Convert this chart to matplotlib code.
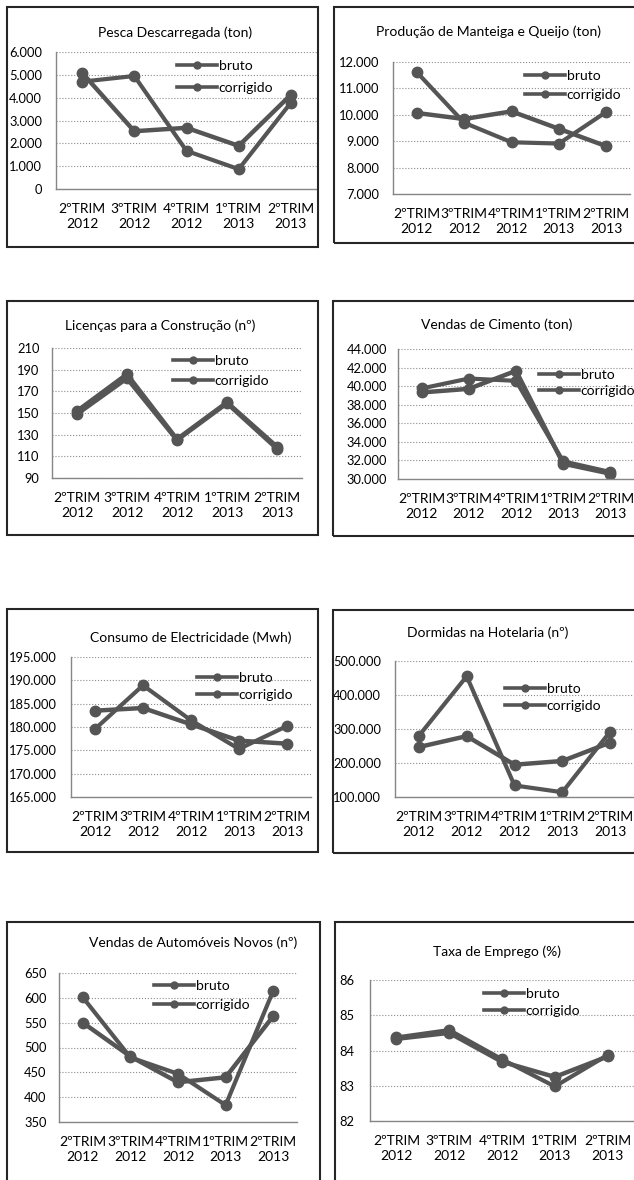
import matplotlib
matplotlib.use('Agg')
import matplotlib.pyplot as plt
from matplotlib.patches import Rectangle
from matplotlib.ticker import FuncFormatter

plt.rcParams['font.family'] = ['Lato', 'DejaVu Sans']

W, H = 634, 1180

quarters = ['2ºTRIM\n2012', '3ºTRIM\n2012', '4ºTRIM\n2012', '1ºTRIM\n2013', '2ºTRIM\n2013']
series_names = ['bruto', 'corrigido']

# values (bruto, corrigido)
pesca_bruto = [4700, 4950, 1670, 870, 3780]
pesca_corr = [5090, 2530, 2680, 1890, 4130]
manteiga_bruto = [11620, 9700, 8960, 8910, 10110]
manteiga_corr = [10070, 9840, 10130, 9470, 8810]
licencas_bruto = [152, 186, 126, 160, 119]
licencas_corr = [149, 182, 125, 159, 117]
cimento_bruto = [39750, 40820, 40570, 31900, 30750]
cimento_corr = [39320, 39710, 41650, 31650, 30570]
electr_bruto = [179570, 188930, 181430, 175290, 180210]
electr_corr = [183500, 184070, 180570, 177070, 176430]
hotel_bruto = [280000, 455000, 134000, 114000, 292000]
hotel_corr = [247000, 279000, 195000, 206000, 260000]
auto_bruto = [601, 480, 447, 384, 614]
auto_corr = [550, 482, 430, 440, 563]
emprego_bruto = [84.37, 84.58, 83.75, 82.98, 83.87]
emprego_corr = [84.33, 84.50, 83.68, 83.25, 83.83]

titles = ['Pesca Descarregada (ton)', 'Produção de Manteiga e Queijo (ton)',
          'Licenças para a Construção (nº)', 'Vendas de Cimento (ton)',
          'Consumo de Electricidade (Mwh)', 'Dormidas na Hotelaria (nº)',
          'Vendas de Automóveis Novos (nº)', 'Taxa de Emprego (%)']
y_ticks = [[0, 1000, 2000, 3000, 4000, 5000, 6000],
           [7000, 8000, 9000, 10000, 11000, 12000],
           [90, 110, 130, 150, 170, 190, 210],
           [30000, 32000, 34000, 36000, 38000, 40000, 42000, 44000],
           [165000, 170000, 175000, 180000, 185000, 190000, 195000],
           [100000, 200000, 300000, 400000, 500000],
           [350, 400, 450, 500, 550, 600, 650],
           [82, 83, 84, 85, 86]]
data = [(pesca_bruto, pesca_corr), (manteiga_bruto, manteiga_corr),
        (licencas_bruto, licencas_corr), (cimento_bruto, cimento_corr),
        (electr_bruto, electr_corr), (hotel_bruto, hotel_corr),
        (auto_bruto, auto_corr), (emprego_bruto, emprego_corr)]

# layout in pixels: frame box, plot area, title centre, legend (x, row1 y, row2 y)
boxes = [(7, 7, 318, 247), (334, 7, 660, 243), (7, 301, 318, 535), (333, 301, 660, 536),
         (7, 609, 318, 852), (333, 610, 660, 853), (7, 922, 320, 1200), (335, 922, 660, 1200)]
plots = [(56, 52, 317, 189), (393, 62, 630, 194), (52, 348, 302, 478), (398, 349, 634, 479),
         (71, 657, 311, 797), (395, 661, 634, 797), (59, 973, 297, 1122), (370, 980, 634, 1121)]
title_pos = [(175, 33), (489, 32), (160, 326), (497, 325), (191, 638), (488, 633), (193, 943), (497, 952)]
legend_pos = [(177, 64, 90), (525, 74, 97), (173, 359, 383), (539, 373, 393),
              (197, 676, 697), (505, 687, 708), (154, 984, 1007), (484, 992, 1013)]
ytick_pad = [10, 10, 9, 8, 10, 10, 9, 11]

LINE = '#555555'
FS_T = 10
FS_X = 10
FS_Y = 9.3
FS_L = 10
fs_px = FS_L * 100 / 72

fig = plt.figure(figsize=(W / 100, H / 100), dpi=100)
fmt = FuncFormatter(lambda v, p: f"{v:,.0f}".replace(",", "."))

for i in range(8):
    bl, bt, br, bb = boxes[i]
    fig.add_artist(Rectangle((bl / W, 1 - bb / H), (br - bl) / W, (bb - bt) / H,
                             transform=fig.transFigure, fill=False, ec='#262626', lw=1.5))
    l, t, r, b = plots[i]
    ax = fig.add_axes([l / W, 1 - b / H, (r - l) / W, (b - t) / H])
    for vals, name, lw in zip(data[i], series_names, [3.0, 3.2]):
        ax.plot(range(5), vals, color=LINE, lw=lw, marker='o', ms=7.5, label=name,
                solid_joinstyle='round')
    ax.set_ylim(y_ticks[i][0], y_ticks[i][-1])
    ax.set_yticks(y_ticks[i])
    ax.yaxis.set_major_formatter(fmt)
    ax.set_xlim(-0.5, 4.5)
    ax.set_xticks(range(5))
    ax.set_xticklabels(quarters, linespacing=1.3)
    ax.tick_params(length=0, colors='black')
    ax.tick_params(axis='y', pad=ytick_pad[i], labelsize=FS_Y)
    ax.tick_params(axis='x', pad=10, labelsize=FS_X)
    ax.grid(axis='y', ls=':', color='#8c8c8c', lw=0.8)
    ax.set_axisbelow(True)
    for s in ['top', 'right']:
        ax.spines[s].set_visible(False)
    for s in ['left', 'bottom']:
        ax.spines[s].set_color('#868686')
        ax.spines[s].set_linewidth(1.0)
    tx, ty = title_pos[i]
    fig.text(tx / W, 1 - ty / H, titles[i], ha='center', va='center', fontsize=FS_T)
    lx, r1, r2 = legend_pos[i]
    ls = (r2 - r1) / fs_px - 1.15
    leg = ax.legend(loc='center left', bbox_to_anchor=(lx / W, 1 - (r1 + r2) / 2 / H),
                    bbox_transform=fig.transFigure, frameon=False, fontsize=FS_L,
                    borderpad=0, borderaxespad=0, handlelength=2.9, handletextpad=0.1,
                    labelspacing=ls)
    for h in leg.legend_handles:
        h.set_markersize(5)
        h.set_linewidth(2.6)

fig.savefig('out.png', dpi=100)
